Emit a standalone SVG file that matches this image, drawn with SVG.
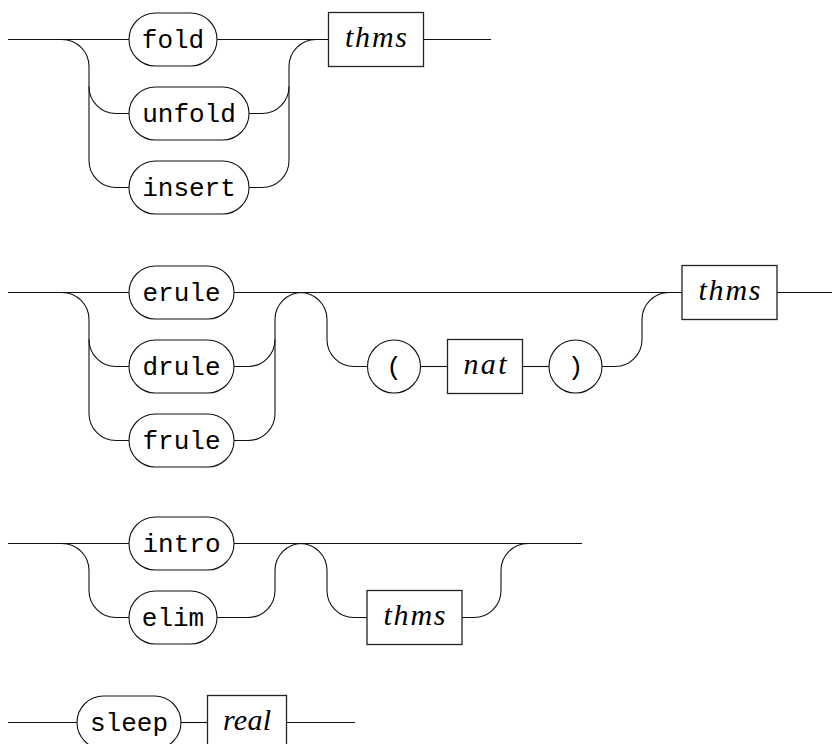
<svg xmlns="http://www.w3.org/2000/svg" width="832" height="744" viewBox="0 0 832 744">
<style>
  .ln { fill: none; stroke: #111; stroke-width: 1.1; }
  .term { fill: #fff; stroke: #111; stroke-width: 1.1; }
  .nt { fill: #fff; stroke: #222; stroke-width: 1.3; }
  .tt { font-family: "Liberation Mono", "DejaVu Sans Mono", monospace; font-size: 26px; fill: #000; text-anchor: middle; }
  .it { font-family: "Liberation Serif", "DejaVu Serif", serif; font-style: italic; font-size: 30px; fill: #000; text-anchor: middle; }
</style>
<rect width="832" height="744" fill="#fff"/>
<g id="connectors">
  <!-- section 1 -->
  <path class="ln" d="M8,39.5 H129"/>
  <path class="ln" d="M217,39.5 H328.5"/>
  <path class="ln" d="M423.5,39.5 H491"/>
  <path class="ln" d="M62,39.5 A27,27 0 0 1 89,66.5 V160.5 A27,27 0 0 0 116,187.5 H129"/>
  <path class="ln" d="M89,86.5 A27,27 0 0 0 116,113.5 H129"/>
  <path class="ln" d="M249,113.5 H262 A27,27 0 0 0 289,86.5"/>
  <path class="ln" d="M249,187.5 H262 A27,27 0 0 0 289,160.5 V66.5 A27,27 0 0 1 316,39.5"/>
  <!-- section 2 -->
  <path class="ln" d="M8,292.5 H129"/>
  <path class="ln" d="M234,292.5 H682"/>
  <path class="ln" d="M777,292.5 H832"/>
  <path class="ln" d="M62,292.5 A27,27 0 0 1 89,319.5 V413.5 A27,27 0 0 0 116,440.5 H129"/>
  <path class="ln" d="M89,339.5 A27,27 0 0 0 116,366.5 H129"/>
  <path class="ln" d="M234,366.5 H248 A27,27 0 0 0 275,339.5"/>
  <path class="ln" d="M234,440.5 H248 A27,27 0 0 0 275,413.5 V319.5 A27,27 0 0 1 302,292.5"/>
  <path class="ln" d="M300,292.5 A27,27 0 0 1 327,319.5 V339.5 A27,27 0 0 0 354,366.5 H367.5"/>
  <path class="ln" d="M420.5,366.5 H447.5"/>
  <path class="ln" d="M522.5,366.5 H549"/>
  <path class="ln" d="M602,366.5 H615 A27,27 0 0 0 642,339.5 V319.5 A27,27 0 0 1 669,292.5"/>
  <!-- section 3 -->
  <path class="ln" d="M8,543.5 H129"/>
  <path class="ln" d="M234,543.5 H582"/>
  <path class="ln" d="M62,543.5 A27,27 0 0 1 89,570.5 V590.5 A27,27 0 0 0 116,617.5 H129"/>
  <path class="ln" d="M217,617.5 H248 A27,27 0 0 0 275,590.5 V570.5 A27,27 0 0 1 302,543.5"/>
  <path class="ln" d="M300,543.5 A27,27 0 0 1 327,570.5 V590.5 A27,27 0 0 0 354,617.5 H367"/>
  <path class="ln" d="M462,617.5 H474 A27,27 0 0 0 501,590.5 V570.5 A27,27 0 0 1 528,543.5"/>
  <!-- section 4 -->
  <path class="ln" d="M8,722.5 H77"/>
  <path class="ln" d="M181,722.5 H207.5"/>
  <path class="ln" d="M286.5,722.5 H355"/>
</g>
<!-- section 1 nodes -->
<g id="fold"><rect class="term" x="129" y="13" width="88" height="53" rx="26.5"/><text class="tt" x="173" y="47.5">fold</text></g>
<g id="unfold"><rect class="term" x="129" y="87" width="120" height="53" rx="26.5"/><text class="tt" x="189" y="121.5">unfold</text></g>
<g id="insert"><rect class="term" x="129" y="161" width="120" height="53" rx="26.5"/><text class="tt" x="189" y="195.5">insert</text></g>
<g id="thms1"><rect class="nt" x="328.5" y="12.5" width="95" height="54"/><text class="it" x="376" y="46.5" textLength="62" lengthAdjust="spacing">thms</text></g>
<!-- section 2 nodes -->
<g id="erule"><rect class="term" x="129" y="266" width="105" height="53" rx="26.5"/><text class="tt" x="181.5" y="300.5">erule</text></g>
<g id="drule"><rect class="term" x="129" y="340" width="105" height="53" rx="26.5"/><text class="tt" x="181.5" y="374.5">drule</text></g>
<g id="frule"><rect class="term" x="129" y="414" width="105" height="53" rx="26.5"/><text class="tt" x="181.5" y="448.5">frule</text></g>
<g id="lparen"><circle class="term" cx="394" cy="366.5" r="26.5"/><text class="tt" x="394" y="374.5">(</text></g>
<g id="nat"><rect class="nt" x="447.5" y="339.5" width="75" height="54"/><text class="it" x="485" y="373.5" textLength="43" lengthAdjust="spacing">nat</text></g>
<g id="rparen"><circle class="term" cx="575.5" cy="366.5" r="26.5"/><text class="tt" x="575.5" y="374.5">)</text></g>
<g id="thms2"><rect class="nt" x="682" y="265.5" width="95" height="54"/><text class="it" x="729.5" y="299.5" textLength="62" lengthAdjust="spacing">thms</text></g>
<!-- section 3 nodes -->
<g id="intro"><rect class="term" x="129" y="517" width="105" height="53" rx="26.5"/><text class="tt" x="181.5" y="551.5">intro</text></g>
<g id="elim"><rect class="term" x="129" y="591" width="88" height="53" rx="26.5"/><text class="tt" x="173" y="625.5">elim</text></g>
<g id="thms3"><rect class="nt" x="367" y="590.5" width="95" height="54"/><text class="it" x="414.5" y="624.5" textLength="62" lengthAdjust="spacing">thms</text></g>
<!-- section 4 nodes -->
<g id="sleep"><rect class="term" x="77" y="696" width="104" height="53" rx="26.5"/><text class="tt" x="129" y="730.5">sleep</text></g>
<g id="real"><rect class="nt" x="207.5" y="695.5" width="79" height="54"/><text class="it" x="247" y="729.5" textLength="48" lengthAdjust="spacing">real</text></g>
</svg>
